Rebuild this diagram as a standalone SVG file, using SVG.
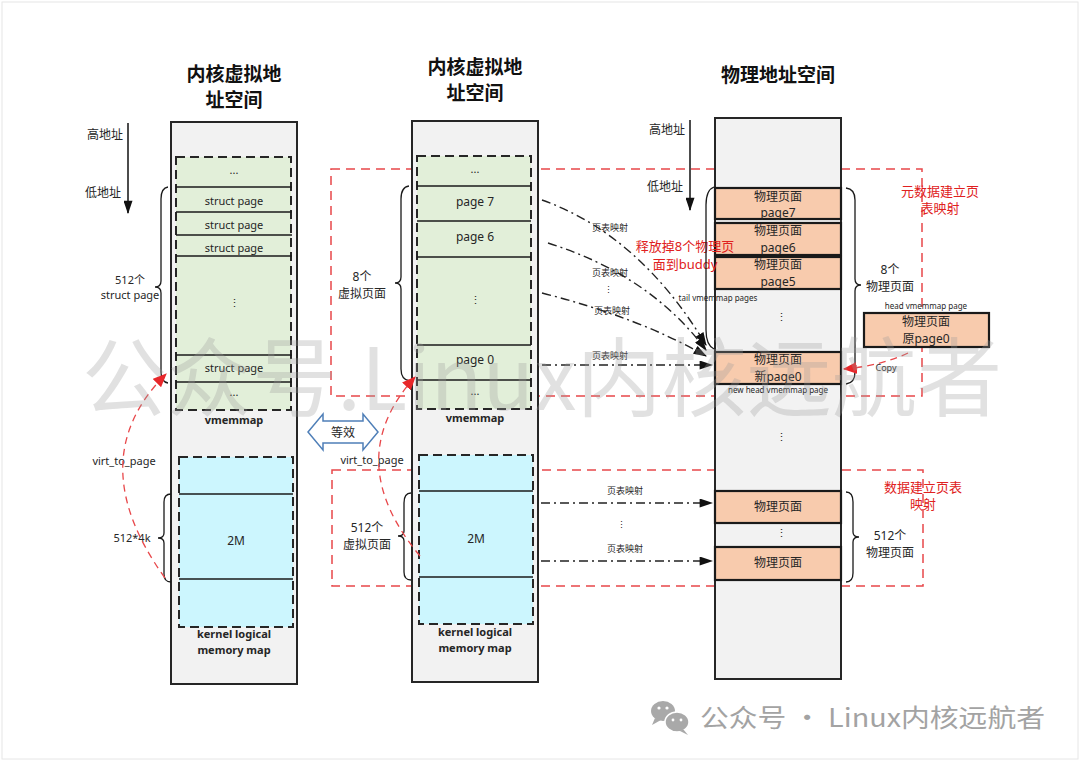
<svg xmlns="http://www.w3.org/2000/svg" width="1080" height="761" viewBox="0 0 1080 761">
<defs>
<style>
.col{fill:#f2f2f2;stroke:#262626;stroke-width:2}
.green{fill:#e2efd9;stroke:#262626;stroke-width:2;stroke-dasharray:9,5}
.blue{fill:#ccf6fe;stroke:#262626;stroke-width:2;stroke-dasharray:9,5}
.sep{stroke:#1a1a1a;stroke-width:1.6}
.org{fill:#f8cbad;stroke:#1a1a1a;stroke-width:2.2}
.reddash{fill:none;stroke:#e8474a;stroke-width:1.5;stroke-dasharray:9,6}
.brace{fill:none;stroke:#1a1a1a;stroke-width:1.3}
.dd{fill:none;stroke:#222;stroke-width:1.4;stroke-dasharray:9,4,2,4}
.t{font-family:"Noto Sans","Noto Sans CJK SC",sans-serif;fill:#262626;text-anchor:middle}
.s11{font-size:11px}
.s12{font-size:12px}
.s13{font-size:13px}
.s9{font-size:9px}
.s8{font-size:8px}
.b{font-weight:bold}
.title{font-family:"Noto Sans CJK SC","Noto Sans",sans-serif;font-size:19px;font-weight:bold;fill:#111;text-anchor:middle}
.red{fill:#e02020}
</style>
<marker id="ah" viewBox="0 0 12 8" refX="11" refY="4" markerWidth="14" markerHeight="9" markerUnits="userSpaceOnUse" orient="auto"><path d="M0,0 L12,4 L0,8 z" fill="#111"/></marker>
<marker id="ahr" viewBox="0 0 12 10" refX="11" refY="5" markerWidth="14" markerHeight="12" markerUnits="userSpaceOnUse" orient="auto"><path d="M0,0 L12,5 L0,10 z" fill="#e8272a"/></marker>
</defs>
<rect x="0" y="0" width="1080" height="761" fill="#ffffff"/>
<rect x="2" y="2" width="1076" height="757" fill="none" stroke="#e6e6e6" stroke-width="1"/>

<!-- red dashed regions (behind columns) -->
<g id="regions">
<rect class="reddash" x="331" y="169" width="591" height="227"/>
<rect class="reddash" x="332" y="470" width="591" height="116"/>
</g>

<!-- left column -->
<g id="left-column">
<text class="title" x="234" y="81">内核虚拟地</text>
<text class="title" x="234" y="107">址空间</text>
<rect class="col" x="171" y="122" width="126" height="562"/>
<rect class="green" x="176" y="157" width="115" height="253"/>
<line class="sep" x1="176" y1="187" x2="292" y2="187"/>
<line class="sep" x1="176" y1="212" x2="292" y2="212"/>
<line class="sep" x1="176" y1="235" x2="292" y2="235"/>
<line class="sep" x1="176" y1="256" x2="292" y2="256"/>
<line class="sep" x1="176" y1="355" x2="292" y2="355"/>
<line class="sep" x1="176" y1="382" x2="292" y2="382"/>
<text class="t s11" x="234" y="174">...</text>
<text class="t s11" x="234" y="205">struct page</text>
<text class="t s11" x="234" y="229">struct page</text>
<text class="t s11" x="234" y="252">struct page</text>
<text class="t s11" x="234" y="307">⋮</text>
<text class="t s11" x="234" y="372">struct page</text>
<text class="t s11" x="234" y="396">...</text>
<text class="t s11 b" x="234" y="424">vmemmap</text>
<rect class="blue" x="179" y="457" width="114" height="170"/>
<line class="sep" x1="179" y1="494" x2="293" y2="494"/>
<line class="sep" x1="179" y1="579" x2="293" y2="579"/>
<text class="t s12" x="236" y="545">2M</text>
<text class="t s11 b" x="234" y="638">kernel logical</text>
<text class="t s11 b" x="234" y="654">memory map</text>
</g>

<g id="left-labels">
<text class="t s12" x="105" y="139">高地址</text>
<text class="t s12" x="103" y="197">低地址</text>
<text class="t s11" x="130" y="284">512个</text>
<text class="t s11" x="130" y="299">struct page</text>
<text class="t s11" x="124" y="465">virt_to_page</text>
<text class="t s11" x="132" y="542">512*4k</text>
<path class="brace" d="M168,187 Q161,188 161,199 L161,281 Q161,287 155,287 Q161,287 161,293 L161,372 Q161,382 168,383"/>
<path class="brace" d="M171,494 Q164,494 164,502 L164,533 Q164,538 158,538 Q164,538 164,543 L164,574 Q164,582 171,582"/>
</g>

<!-- middle column -->
<g id="middle-column">
<text class="title" x="475" y="74">内核虚拟地</text>
<text class="title" x="475" y="100">址空间</text>
<rect class="col" x="412" y="121" width="126" height="561"/>
<rect class="green" x="417" y="156" width="114" height="253"/>
<line class="sep" x1="417" y1="186" x2="531" y2="186"/>
<line class="sep" x1="417" y1="221" x2="531" y2="221"/>
<line class="sep" x1="417" y1="257" x2="531" y2="257"/>
<line class="sep" x1="417" y1="345" x2="531" y2="345"/>
<line class="sep" x1="417" y1="380" x2="531" y2="380"/>
<text class="t s11" x="475" y="173">...</text>
<text class="t s12" x="475" y="206">page 7</text>
<text class="t s12" x="475" y="241">page 6</text>
<text class="t s11" x="475" y="304">⋮</text>
<text class="t s12" x="475" y="364">page 0</text>
<text class="t s11" x="475" y="395">...</text>
<text class="t s11 b" x="475" y="422">vmemmap</text>
<rect class="blue" x="419" y="455" width="114" height="169"/>
<line class="sep" x1="419" y1="491" x2="533" y2="491"/>
<line class="sep" x1="419" y1="577" x2="533" y2="577"/>
<text class="t s12" x="476" y="543">2M</text>
<text class="t s11 b" x="475" y="636">kernel logical</text>
<text class="t s11 b" x="475" y="652">memory map</text>
</g>

<g id="middle-labels">
<text class="t s12" x="362" y="281">8个</text>
<text class="t s12" x="362" y="298">虚拟页面</text>
<text class="t s12" x="367" y="532">512个</text>
<text class="t s12" x="367" y="549">虚拟页面</text>
<text class="t s11" x="372" y="464">virt_to_page</text>
<path class="brace" d="M409,186 Q401,187 401,199 L401,277 Q401,283 395,283 Q401,283 401,289 L401,369 Q401,380 410,381"/>
<path class="brace" d="M411,493 Q404,493 404,503 L404,531 Q404,536 398,536 Q404,536 404,541 L404,572 Q404,580 411,580"/>
</g>

<g id="equiv">
<path d="M308,432 L323,414 L323,421 L363,421 L363,414 L378,432 L363,450 L363,443 L323,443 L323,450 Z" fill="#ffffff" stroke="#4f7fb8" stroke-width="1.5"/>
<text class="t s12" x="343" y="437">等效</text>
</g>

<!-- right column -->
<g id="right-column">
<text class="title" x="778" y="82">物理地址空间</text>
<rect class="col" x="715" y="118" width="126" height="561"/>
<rect class="org" x="715" y="188" width="126" height="31"/>
<rect class="org" x="715" y="223" width="126" height="32"/>
<rect class="org" x="715" y="257" width="126" height="32"/>
<rect class="org" x="715" y="352" width="126" height="32"/>
<rect class="org" x="715" y="491" width="126" height="32"/>
<rect class="org" x="715" y="547" width="126" height="33"/>
<text class="t s12" x="778" y="201">物理页面</text>
<text class="t s12" x="778" y="217">page7</text>
<text class="t s12" x="778" y="235">物理页面</text>
<text class="t s12" x="778" y="252">page6</text>
<text class="t s12" x="778" y="269">物理页面</text>
<text class="t s12" x="778" y="286">page5</text>
<text class="t s11" x="781" y="321">⋮</text>
<text class="t s12" x="778" y="364">物理页面</text>
<text class="t s12" x="778" y="381">新page0</text>
<text class="t s8" x="778" y="393">new head vmemmap page</text>
<text class="t s11" x="781" y="441">⋮</text>
<text class="t s12" x="778" y="511">物理页面</text>
<text class="t s11" x="781" y="537">⋮</text>
<text class="t s12" x="778" y="567">物理页面</text>
</g>

<g id="right-labels">
<text class="t s12" x="667" y="134">高地址</text>
<text class="t s12" x="665" y="191">低地址</text>
<text class="t s12" x="890" y="274">8个</text>
<text class="t s12" x="890" y="291">物理页面</text>
<text class="t s12" x="890" y="540">512个</text>
<text class="t s12" x="890" y="557">物理页面</text>
<text class="t s8" x="718" y="301">tail vmemmap pages</text>
<text class="t s13 red" x="685" y="251">释放掉8个物理页</text>
<text class="t s13 red" x="685" y="269">面到buddy</text>
<text class="t s13 red" x="940" y="196">元数据建立页</text>
<text class="t s13 red" x="940" y="213">表映射</text>
<text class="t s13 red" x="923" y="492">数据建立页表</text>
<text class="t s13 red" x="923" y="509">映射</text>
<path class="brace" d="M846,188 Q855,189 855,200 L855,279 Q855,285 861,285 Q855,285 855,291 L855,372 Q855,383 846,384"/>
<path class="brace" d="M846,492 Q853,492 853,502 L853,532 Q853,537 859,537 Q853,537 853,542 L853,573 Q853,582 846,582"/>
<path class="brace" d="M714,187 Q706,190 706,205 L706,330 Q706,345 714,349"/>
</g>

<g id="head-page">
<text class="t s8" x="926" y="309">head vmemmap page</text>
<rect class="org" x="864" y="313" width="125" height="34"/>
<text class="t s12" x="926" y="326">物理页面</text>
<text class="t s12" x="926" y="343">原page0</text>
<text class="t s9" x="886" y="371">Copy</text>
</g>

<!-- connectors -->
<g id="connectors">
<line x1="128" y1="123" x2="128" y2="213" stroke="#111" stroke-width="1.5" marker-end="url(#ah)"/>
<line x1="690" y1="120" x2="690" y2="210" stroke="#111" stroke-width="1.5" marker-end="url(#ah)"/>
<path class="dd" d="M542,200 Q640,235 706,345" marker-end="url(#ah)"/>
<path class="dd" d="M548,243 Q650,275 706,350" marker-end="url(#ah)"/>
<path class="dd" d="M542,293 Q640,318 706,356" marker-end="url(#ah)"/>
<line class="dd" x1="542" y1="365" x2="712" y2="365" marker-end="url(#ah)"/>
<line class="dd" x1="541" y1="503" x2="712" y2="503" marker-end="url(#ah)"/>
<line class="dd" x1="541" y1="561" x2="712" y2="561" marker-end="url(#ah)"/>
<text class="t s9" x="610" y="231">页表映射</text>
<text class="t s9" x="610" y="276">页表映射</text>
<text class="t s9" x="608" y="293">⋮</text>
<text class="t s9" x="612" y="314">页表映射</text>
<text class="t s9" x="610" y="359">页表映射</text>
<text class="t s9" x="625" y="494">页表映射</text>
<text class="t s9" x="621" y="528">⋮</text>
<text class="t s9" x="625" y="552">页表映射</text>
<path d="M165,578 Q80,460 166,374" fill="none" stroke="#e8474a" stroke-width="1.3" stroke-dasharray="7,5" marker-end="url(#ahr)"/>
<path d="M420,556 Q340,460 415,377" fill="none" stroke="#e8474a" stroke-width="1.3" stroke-dasharray="7,5" marker-end="url(#ahr)"/>
<path d="M908,353 Q880,366 844,369" fill="none" stroke="#e8474a" stroke-width="1.3" stroke-dasharray="7,5" marker-end="url(#ahr)"/>
</g>

<!-- watermarks -->
<g id="watermark">
<text x="82" y="410" font-family="Noto Sans CJK SC,Noto Sans,sans-serif" font-size="86" fill="#9a9a9a" fill-opacity="0.3" textLength="920" lengthAdjust="spacingAndGlyphs">公众号.Linux内核远航者</text>
</g>
<g id="footer">
<ellipse cx="663" cy="711" rx="12" ry="10" fill="#a9a9a9"/>
<path d="M655,718 L652,725 L661,720 Z" fill="#a9a9a9"/>
<ellipse cx="677" cy="722" rx="12" ry="10" fill="#a9a9a9" stroke="#ffffff" stroke-width="1.5"/>
<path d="M683,729 L688,735 L680,731 Z" fill="#a9a9a9"/>
<circle cx="659" cy="708" r="1.6" fill="#fff"/>
<circle cx="667" cy="708" r="1.6" fill="#fff"/>
<circle cx="673" cy="720" r="1.4" fill="#fff"/>
<circle cx="681" cy="720" r="1.4" fill="#fff"/>
<text x="700" y="727" font-family="Noto Sans CJK SC,Noto Sans,sans-serif" font-size="25" fill="#a3a3a3" textLength="345" lengthAdjust="spacingAndGlyphs">公众号 · Linux内核远航者</text>
</g>
</svg>
